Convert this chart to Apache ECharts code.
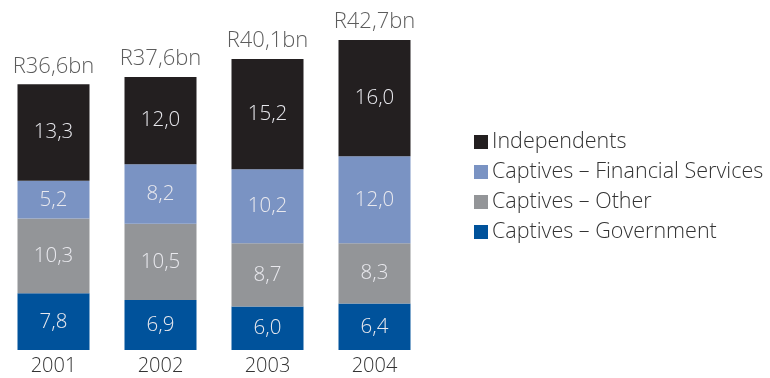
<!DOCTYPE html>
<html>
<head>
<meta charset="utf-8">
<script src="https://cdn.jsdelivr.net/npm/echarts@6/dist/echarts.min.js"></script>
<style>
  html, body { margin: 0; padding: 0; background: #fff; }
  #chart { width: 770px; height: 378px; }
</style>
</head>
<body>
<div id="chart"></div>
<script>
// Years on the x axis
const years = ['2001', '2002', '2003', '2004'];

// Segment values per year (R bn), bottom to top of each stack
const government = [7.8, 6.9, 6.0, 6.4];
const other = [10.3, 10.5, 8.7, 8.3];
const financial = [5.2, 8.2, 10.2, 12.0];
const independents = [13.3, 12.0, 15.2, 16.0];

const seriesNames = [
  'Captives – Government',
  'Captives – Other',
  'Captives – Financial Services',
  'Independents'
];
const seriesColors = ['#00529b', '#939598', '#7a93c3', '#231f20'];
const seriesData = [government, other, financial, independents];

// Stack totals, shown above each column
const totals = years.map((_, i) =>
  Math.round((government[i] + other[i] + financial[i] + independents[i]) * 10) / 10
);

const fmt = v => v.toFixed(1).replace('.', ',');
const FONT = '"Open Sans", "Noto Sans", sans-serif';

const barSeries = seriesNames.map((name, k) => ({
  name,
  type: 'bar',
  stack: 'total',
  barWidth: 72,
  data: seriesData[k],
  itemStyle: { color: seriesColors[k] },
  label: {
    show: true,
    position: 'inside',
    color: '#e9e9ee',
    fontFamily: FONT,
    fontWeight: 300,
    fontSize: 20.5,
    formatter: p => fmt(p.value)
  },
  emphasis: { disabled: true }
}));

const totalSeries = {
  name: 'total',
  type: 'scatter',
  data: totals,
  symbolSize: 0,
  silent: true,
  label: {
    show: true,
    position: 'top',
    distance: 7,
    color: '#333',
    fontFamily: FONT,
    fontWeight: 300,
    fontSize: 22,
    formatter: p => 'R' + fmt(p.value) + 'bn'
  }
};

const chart = echarts.init(document.getElementById('chart'));
chart.setOption({
  animation: false,
  grid: { left: 0, top: 40, width: 428, bottom: 28 },
  legend: {
    data: seriesNames.slice().reverse(),
    orient: 'vertical',
    left: 469,
    top: 126,
    itemWidth: 14,
    itemHeight: 14,
    itemGap: 8,
    icon: 'rect',
    textStyle: { fontFamily: FONT, fontWeight: 300, fontSize: 21.5, color: '#333', padding: [0, 0, 0, -1] },
    selectedMode: false
  },
  xAxis: {
    type: 'category',
    data: years,
    axisLine: { show: false },
    axisTick: { show: false },
    axisLabel: { color: '#333', fontFamily: FONT, fontWeight: 300, fontSize: 20, margin: 6 }
  },
  yAxis: {
    type: 'value',
    min: 0,
    max: 42.7,
    show: false,
    splitLine: { show: false }
  },
  series: [...barSeries, totalSeries]
});
</script>
</body>
</html>
